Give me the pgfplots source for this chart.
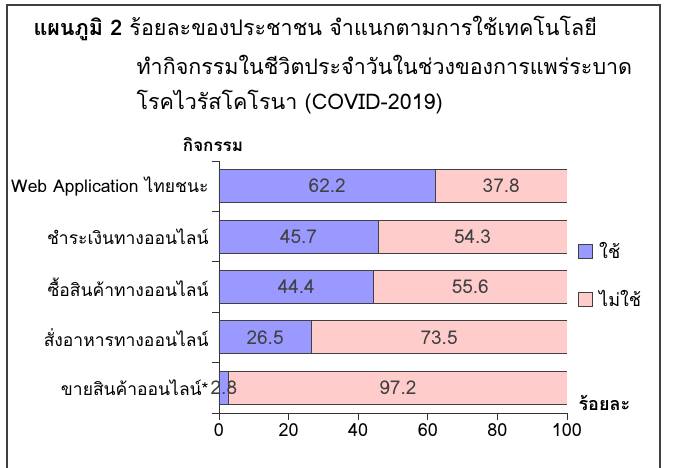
\documentclass[border=0pt]{standalone}
\usepackage{fontspec}
\setmainfont[Script=Thai]{Loma}
\usepackage{pgfplots}
\pgfplotsset{compat=1.18}
\definecolor{cyes}{RGB}{153,153,255}
\definecolor{cno}{RGB}{255,204,204}
\definecolor{edge}{RGB}{64,64,64}
\definecolor{lbl}{RGB}{64,64,64}
\begin{document}
\begin{tikzpicture}[x=1pt,y=1pt]
\useasboundingbox (0,0) rectangle (673,468);
\draw[line width=1.2pt, color=black!75] (7,-5) -- (7,463) -- (660,463) -- (660,-5);
\node[anchor=base west, font=\fontsize{21.5}{24}\selectfont] at (30,432) {\textbf{แผนภูมิ 2} ร้อยละของประชาชน จำแนกตามการใช้เทคโนโลยี};
\node[anchor=base west, font=\fontsize{21.5}{24}\selectfont] at (133,393) {ทำกิจกรรมในชีวิตประจำวันในช่วงของการแพร่ระบาด};
\node[anchor=base west, font=\fontsize{21.5}{24}\selectfont] at (133,358) {โรคไวรัสโคโรนา (COVID-2019)};
\node[font=\bfseries\fontsize{17}{19}\selectfont] at (213,323) {กิจกรรม};
\node[anchor=west, font=\bfseries\fontsize{18}{20}\selectfont] at (575,65) {ร้อยละ};
\begin{axis}[
  at={(219pt,55pt)}, anchor=south west, scale only axis,
  width=348pt, height=252pt,
  xbar stacked, bar width=33pt,
  xmin=0, xmax=100, ymin=-0.5, ymax=4.5,
  axis x line*=bottom, axis y line*=left,
  axis line style={black!80, line width=0.8pt},
  xtick={0,20,...,100},
  ytick={0,1,2,3,4},
  yticklabels={ขายสินค้าออนไลน์*, สั่งอาหารทางออนไลน์, ซื้อสินค้าทางออนไลน์, ชำระเงินทางออนไลน์, Web Application ไทยชนะ},
  minor ytick={-0.5,0.5,...,4.5},
  tick align=outside, major tick length=7pt, minor tick length=7pt,
  major y tick style={draw=none},
  minor y tick style={black!80, line width=0.8pt},
  major x tick style={black!80, line width=0.8pt},
  /pgf/number format/assume math mode=true,
  xticklabel style={font=\fontsize{18}{20}\selectfont},
  yticklabel style={font=\fontsize{17.5}{20}\selectfont},
  nodes near coords,
  point meta=explicit,
  every node near coord/.append style={font=\fontsize{19}{21}\selectfont, text=lbl},
  legend style={at={(1.03,0.685)}, anchor=north west, draw=none, fill=none,
    font=\fontsize{18}{20}\selectfont, row sep=26pt, inner sep=0pt,
    /tikz/every odd column/.append style={column sep=5pt}},
  legend cell align=left,
  legend image code/.code={\draw[#1, draw=edge, line width=0.6pt] (0pt,-7pt) rectangle (14pt,7pt);},
]
\addplot[fill=cyes, draw=edge, line width=0.8pt] table[x=yes, y=pos, meta=yes] {
pos yes
4 62.2
3 45.7
2 44.4
1 26.5
0 2.8
};
\addplot[fill=cno, draw=edge, line width=0.8pt] table[x=no, y=pos, meta=no] {
pos no
4 37.8
3 54.3
2 55.6
1 73.5
0 97.2
};
\legend{ใช้, ไม่ใช้}
\end{axis}
\end{tikzpicture}
\end{document}
